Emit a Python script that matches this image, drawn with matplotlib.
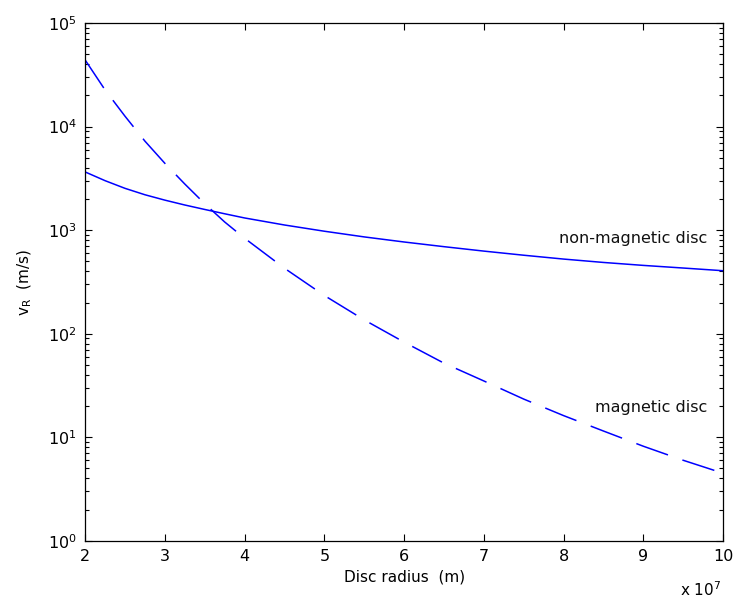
import numpy as np
import matplotlib
matplotlib.use("Agg")
from matplotlib import pyplot as plt
from matplotlib.ticker import LogLocator, FixedLocator, NullFormatter, FuncFormatter

plt.rcParams['font.family'] = ['DejaVu Sans']
plt.rcParams['mathtext.default'] = 'regular'

# disc radius in units of 1e7 m
radius = [2.0, 2.25, 2.5, 2.75, 3.0, 3.25, 3.5, 3.75, 4.0, 4.5, 5.0, 5.5, 6.0, 6.5,
          7.0, 7.5, 8.0, 8.5, 9.0, 9.5, 10.0]
# v_R (m/s) for the two disc models
v_nonmag = [3650, 3006, 2535, 2198, 1950, 1750, 1585, 1440, 1312, 1122, 977, 861, 769, 693,
            628, 573, 526, 488, 457, 431, 406]
v_mag = [44000, 22600, 12600, 7240, 4420, 2790, 1800, 1200, 836, 429, 234, 136, 83, 52,
         35, 23.4, 16.2, 11.5, 8.2, 6.0, 4.5]

fig = plt.figure(figsize=(7.34, 6.07), dpi=100)
ax = fig.add_axes([0.116, 0.109, 0.869, 0.853])

blue = (0, 0, 1)
ax.plot(radius, v_nonmag, '-', color=blue, lw=1.1)
ax.plot(radius, v_mag, '--', color=blue, lw=1.1, dashes=(22, 10))

ax.set_yscale('log')
ax.set_xlim(2, 10)
ax.set_ylim(1, 1e5)

ax.xaxis.set_major_locator(FixedLocator(range(2, 11)))
ax.yaxis.set_major_locator(LogLocator(base=10, numticks=10))
ax.yaxis.set_minor_locator(LogLocator(base=10, subs=np.arange(2, 10), numticks=20))
ax.yaxis.set_minor_formatter(NullFormatter())
ax.yaxis.set_major_formatter(FuncFormatter(lambda v, p: r'$10^{%d}$' % round(np.log10(v))))

ax.tick_params(which='both', direction='in', top=True, right=True, labelsize=11.5, colors='black')
ax.tick_params(which='major', length=5, width=0.8, pad=6)
ax.tick_params(which='minor', length=3, width=0.8)
for s in ax.spines.values():
    s.set_linewidth(0.9)

ax.text(9.8, 840, 'non-magnetic disc', ha='right', va='center', fontsize=11.5, color='#111111')
ax.text(9.8, 19.5, 'magnetic disc', ha='right', va='center', fontsize=11.5, color='#111111')

ax.set_xlabel('Disc radius  (m)', fontsize=11, labelpad=4)
ax.set_ylabel(r'$v_R$  (m/s)', fontsize=11, labelpad=10)
fig.text(0.983, 0.013, r'x $10^7$', ha='right', va='bottom', fontsize=11)

fig.savefig('out.png', dpi=100)
